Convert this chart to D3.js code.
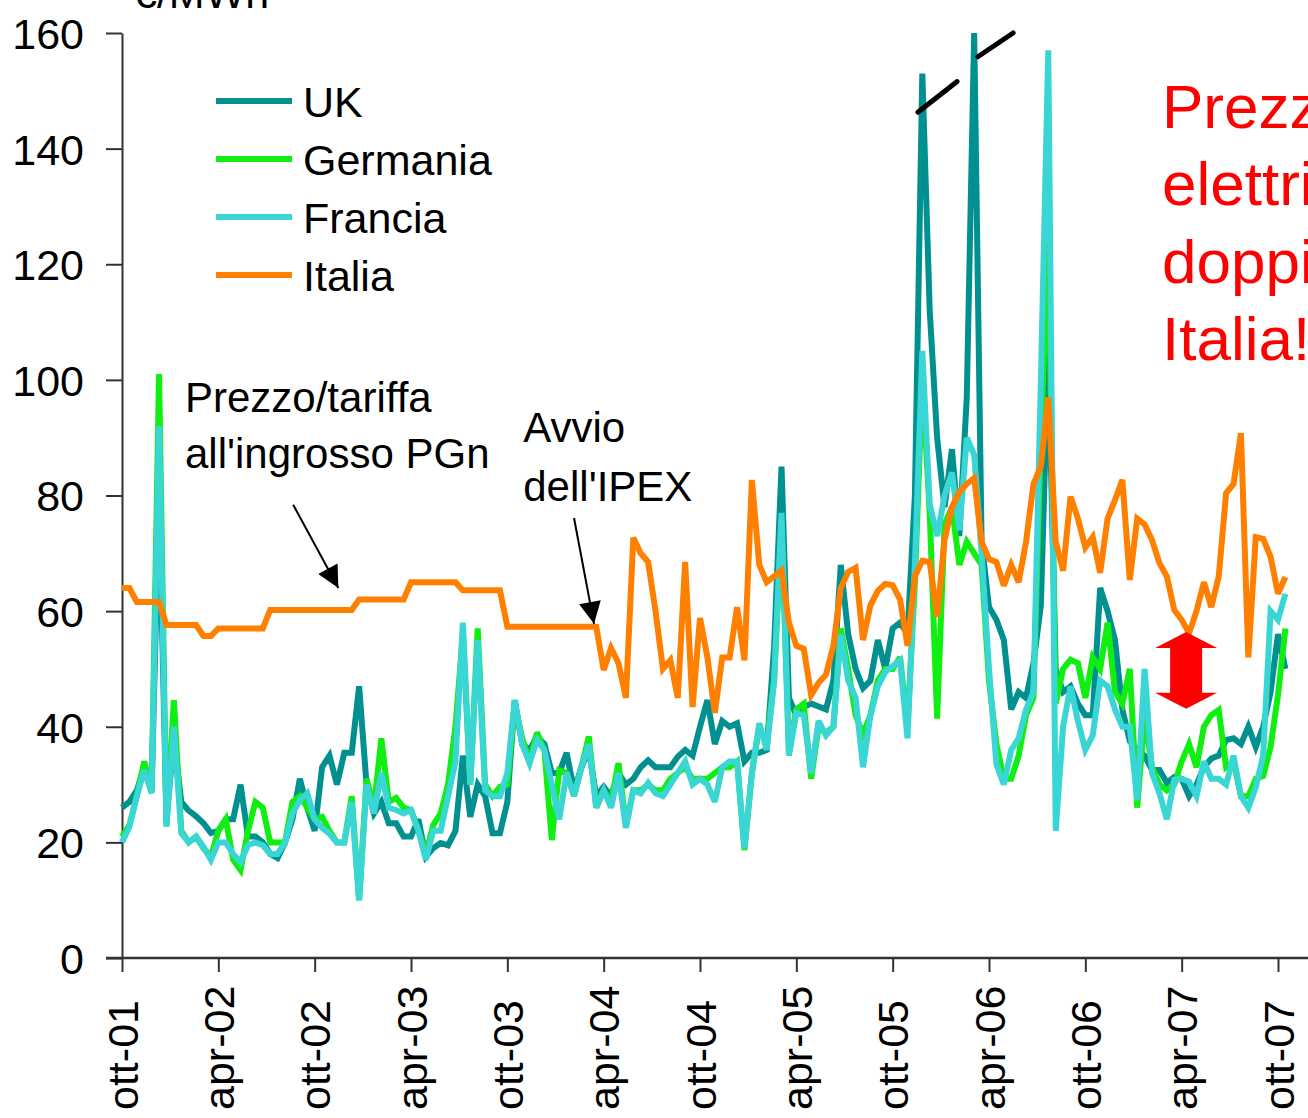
<!DOCTYPE html>
<html>
<head>
<meta charset="utf-8">
<script src="https://cdn.jsdelivr.net/npm/d3@7/dist/d3.min.js"></script>
<style>
  body { margin: 0; background: #fff; }
  svg text { font-family: "Liberation Sans", Arial, sans-serif; }
</style>
</head>
<body>
<div id="chart"></div>
<script>
// weekly prices, sampled every 2 weeks from ott-01 to ott-07 (EUR/MWh)
var tickLabels = ["ott-01", "apr-02", "ott-02", "apr-03", "ott-03", "apr-04", "ott-04",
                  "apr-05", "ott-05", "apr-06", "ott-06", "apr-07", "ott-07"];
var tickWeeks = [0, 26, 52, 78, 104, 130, 156, 182, 208, 234, 260, 286, 312];
var yTicks = [0, 20, 40, 60, 80, 100, 120, 140, 160];

var uk = [26, 27, 29, 33, 29, 80, 24, 38, 27, 25.5, 24.5, 23.3, 21.6, 22, 24, 24, 30, 21, 21, 20,
  18, 17.3, 20, 24, 31, 26, 22, 33, 35, 30, 35.5, 35.5, 47, 30, 25, 27, 23.3, 23.3, 21, 21,
  24, 17.5, 19, 19.9, 19.5, 22, 35, 24.4, 30, 28, 21.6, 21.6, 27, 44.6, 37, 36, 38.3, 37, 32, 32,
  35.5, 29, 33, 36, 28, 29.6, 28, 32, 30, 31, 33, 34.2, 33, 33, 33, 34.8, 36, 35, 40, 44.6,
  37, 41, 40, 40.6, 34, 35.5, 35.5, 36, 53.8, 85, 45, 42, 43.4, 44, 43.5, 43, 48, 68, 56, 50,
  46.7, 48, 55, 50, 57, 58, 56, 80, 153, 112, 90, 78, 88, 73, 97, 160, 72, 60.7, 58.5, 55,
  43, 46, 45, 51, 61, 105, 50, 46, 47, 44, 42, 42, 64, 60, 55, 43, 37.5, 36, 35, 32.5,
  32.5, 30.3, 31.3, 31, 28, 30, 33, 34.5, 35, 37.7, 38, 37, 40, 36.5, 40, 46, 56, 50];

var germania = [21, 23, 28, 34, 29, 101, 23, 44.6, 22, 20, 21, 19, 17.5, 22, 24, 17, 15.2, 22, 27, 26,
  20, 20, 20, 27, 28, 26, 24, 24.4, 22, 20, 20, 28, 10, 31, 26, 38, 27, 27.7, 26, 25.6,
  22, 18, 23, 25, 30, 40, 56, 30, 57, 30, 28, 29.6, 30, 44, 38, 34, 39, 36, 20.4, 32.5,
  32, 28, 33, 38.3, 26, 29, 27, 33.7, 23, 29, 29, 30, 29, 29, 31, 32, 33, 31, 31, 31,
  32, 33, 33, 34, 18.7, 32, 40, 37, 48, 75, 36, 43, 44, 31, 40, 39, 40, 57, 50, 42,
  38.7, 42, 48, 50, 50, 52, 40, 65, 100, 77, 41.4, 75, 78, 68, 72, 70, 68, 48, 37, 31,
  31, 35, 42, 45, 90, 125, 44, 50, 51.6, 51, 45, 52, 50, 58, 46, 44, 50, 26, 42, 33,
  30, 29, 30, 34, 37, 33, 40, 42, 42.9, 33, 34, 28, 28, 31, 31.5, 36.5, 45.5, 57];

var francia = [20, 22.7, 28, 32.5, 28.5, 92, 22.7, 40, 21.6, 20, 21, 19.2, 17, 20, 20, 18, 16.6, 19.5, 20, 19.5,
  18, 18, 20, 25, 27.3, 28.5, 24, 22.5, 21.5, 20, 20, 27, 10, 30, 25, 32, 26, 25.6, 25, 25.6,
  22, 17, 22, 22, 28, 34, 58, 30, 55, 29, 28, 28, 32, 44.6, 37, 33.7, 37.7, 36, 30, 24,
  32, 28, 33, 37, 26, 29, 26, 32, 22.5, 29, 28.5, 30.3, 28.5, 28, 30, 32, 34, 30, 31, 30,
  27, 33, 34, 34, 19, 32, 40.6, 36, 48, 77, 35, 42.4, 42, 32, 41, 38.5, 40, 56, 48, 45,
  33, 42, 47, 49.5, 50.5, 51.5, 38, 68, 105, 78.5, 73, 80, 84, 74, 90, 87, 70, 50, 33.5, 30,
  36, 38, 43, 46, 100, 157, 22, 40, 47, 41, 36, 38.5, 48, 47, 43, 40, 40, 27.3, 50, 32,
  28.5, 24, 30.8, 31, 30.5, 28, 34, 31, 31, 30, 35, 28, 26, 29.5, 35, 60, 58.5, 63];

var italia = [64, 64, 61.6, 61.6, 61.6, 61.6, 57.6, 57.6, 57.6, 57.6, 57.6, 55.7, 55.7, 57, 57, 57, 57, 57, 57, 57,
  60.2, 60.2, 60.2, 60.2, 60.2, 60.2, 60.2, 60.2, 60.2, 60.2, 60.2, 60.2, 62, 62, 62, 62, 62, 62, 62, 65,
  65, 65, 65, 65, 65, 65, 63.6, 63.6, 63.6, 63.6, 63.6, 63.6, 57.3, 57.3, 57.3, 57.3, 57.3, 57.3, 57.3, 57.3,
  57.3, 57.3, 57.3, 57.3, 57.3, 49.8, 53.6, 51, 45, 72.7, 70, 68.5, 60, 50, 51.5, 45, 68.5, 43.4, 58.8, 52,
  42.4, 52, 52, 60.7, 51.5, 82.7, 68, 65, 66, 67, 58, 54, 53.5, 45.5, 47.6, 49, 54, 64, 66.8, 67.5,
  55, 61, 63.5, 64.7, 64.5, 62, 54, 66, 68.7, 68.5, 59, 72.3, 78, 80.6, 82, 83, 72, 69, 68.5, 64.4,
  68, 65, 72, 82, 85, 97, 72, 67, 79.8, 76, 71, 72.8, 66.6, 76, 79.2, 82.7, 65.4, 76, 75, 72.3,
  68.3, 66, 60.2, 58.5, 56.2, 60, 65, 60.7, 66, 80.4, 82, 90.8, 52, 72.8, 72.5, 69.4, 63, 65.9];

var seriesNames = ["UK", "Germania", "Francia", "Italia"];
var seriesColors = ["#009090", "#11ee11", "#3ad5d5", "#ff8000"];

var width = 1308, height = 1118;

var svg = d3.select("#chart").append("svg")
  .attr("width", width)
  .attr("height", height);

// Scales (x in weeks from ott-01)
var x = d3.scaleLinear().domain([0, 312]).range([122, 1278]);
var y = d3.scaleLinear().domain([0, 160]).range([958, 33]);

// Axes
var yAxis = svg.append("g")
  .attr("transform", "translate(" + x(0) + ",0)")
  .call(d3.axisLeft(y).tickValues(yTicks).tickSize(16).tickSizeOuter(0).tickPadding(22));
yAxis.select(".domain").attr("stroke", "#333").attr("stroke-width", 2);
yAxis.selectAll(".tick line").attr("stroke", "#333").attr("stroke-width", 2);
yAxis.selectAll(".tick text")
  .attr("font-size", 43)
  .attr("fill", "#000")
  .attr("dy", "0.36em")
  .style("font-family", "'Liberation Sans', Arial, sans-serif");

var xAxis = svg.append("g")
  .attr("transform", "translate(0," + y(0) + ")")
  .call(d3.axisBottom(x).tickValues(tickWeeks).tickSize(14).tickSizeOuter(0)
    .tickFormat(function(d, i) { return tickLabels[i] }));
xAxis.select(".domain").remove();
xAxis.selectAll(".tick line").attr("stroke", "#333").attr("stroke-width", 2);
xAxis.selectAll(".tick text")
  .attr("transform", "rotate(-90)")
  .attr("text-anchor", "start")
  .attr("x", -152)
  .attr("y", 15)
  .attr("dy", 0)
  .attr("font-size", 43)
  .attr("fill", "#000")
  .style("font-family", "'Liberation Sans', Arial, sans-serif");

// baseline extends a bit left of the y axis and up to the page edge
svg.append("line")
  .attr("x1", x(0) - 16).attr("x2", width)
  .attr("y1", y(0)).attr("y2", y(0))
  .attr("stroke", "#333").attr("stroke-width", 2.5);

// Unit label (cut at the top, as in the original)
svg.append("text")
  .attr("x", 133).attr("y", 8)
  .attr("font-size", 43)
  .text("€/MWh");

// Lines
var line = d3.line()
  .x(function(d, i) { return x(i * 2) })
  .y(function(d) { return y(d) });

var allSeries = [uk, germania, francia, italia];

svg.selectAll(".series")
  .data(allSeries)
  .enter().append("path")
  .attr("class", "series")
  .attr("d", line)
  .attr("fill", "none")
  .attr("stroke", function(d, i) { return seriesColors[i] })
  .attr("stroke-width", 6)
  .attr("stroke-linejoin", "miter")
  .attr("stroke-miterlimit", 3);

// Legend
var legend = svg.selectAll(".legend")
  .data(seriesNames)
  .enter().append("g")
  .attr("class", "legend")
  .attr("transform", function(d, i) { return "translate(216," + (101 + i * 58) + ")" });

legend.append("line")
  .attr("x1", 0).attr("x2", 76)
  .attr("stroke", function(d, i) { return seriesColors[i] })
  .attr("stroke-width", 6);

legend.append("text")
  .attr("x", 87).attr("y", 16)
  .attr("font-size", 43)
  .text(function(d) { return d });

// Break marks on the spikes (in data units)
var breaks = [[[214.8, 146.3], [225.4, 151.6]], [[231, 155.9], [240.5, 160]]];
svg.selectAll(".break")
  .data(breaks)
  .enter().append("line")
  .attr("class", "break")
  .attr("x1", function(d) { return x(d[0][0]) })
  .attr("y1", function(d) { return y(d[0][1]) })
  .attr("x2", function(d) { return x(d[1][0]) })
  .attr("y2", function(d) { return y(d[1][1]) })
  .attr("stroke", "#000")
  .attr("stroke-width", 5)
  .attr("stroke-linecap", "round");

// Annotations
svg.append("defs").append("marker")
  .attr("id", "head")
  .attr("viewBox", "0 0 10 10")
  .attr("refX", 10).attr("refY", 5)
  .attr("markerWidth", 26).attr("markerHeight", 22)
  .attr("markerUnits", "userSpaceOnUse")
  .attr("orient", "auto")
  .append("path")
  .attr("d", "M0,0 L10,5 L0,10 z")
  .attr("fill", "#000");

var notes = [
  { lines: ["Prezzo/tariffa", "all'ingrosso PGn"], wk: 17, v: 94.4, gap: 56, from: [46.2, 78.4], to: [58.4, 64] },
  { lines: ["Avvio", "dell'IPEX"], wk: 108.3, v: 89.3, gap: 59, from: [122, 76.1], to: [127.4, 57.8] }
];

notes.forEach(function(n) {
  var t = svg.append("text")
    .attr("x", x(n.wk))
    .attr("y", y(n.v))
    .attr("font-size", 42);
  n.lines.forEach(function(s, i) {
    t.append("tspan")
      .attr("x", x(n.wk))
      .attr("dy", i === 0 ? 0 : n.gap)
      .text(s);
  });
  svg.append("line")
    .attr("x1", x(n.from[0])).attr("y1", y(n.from[1]))
    .attr("x2", x(n.to[0])).attr("y2", y(n.to[1]))
    .attr("stroke", "#000")
    .attr("stroke-width", 2)
    .attr("marker-end", "url(#head)");
});

// Red double arrow showing the gap
var gap = { wk: 287.2, top: 56.4, bottom: 43.1 };
var gx = x(gap.wk), gt = y(gap.top), gb = y(gap.bottom);
var headW = 31, shaftW = 16, headH = 16;
svg.append("path")
  .attr("d", "M" + gx + "," + gt +
    "L" + (gx + headW) + "," + (gt + headH) +
    "L" + (gx + shaftW) + "," + (gt + headH) +
    "L" + (gx + shaftW) + "," + (gb - headH) +
    "L" + (gx + headW) + "," + (gb - headH) +
    "L" + gx + "," + gb +
    "L" + (gx - headW) + "," + (gb - headH) +
    "L" + (gx - shaftW) + "," + (gb - headH) +
    "L" + (gx - shaftW) + "," + (gt + headH) +
    "L" + (gx - headW) + "," + (gt + headH) + "Z")
  .attr("fill", "#ff0000");

// Red callout text, running off the right edge like the original
var callout = ["Prezzi", "elettrici", "doppi in", "Italia!"];
svg.selectAll(".callout")
  .data(callout)
  .enter().append("text")
  .attr("class", "callout")
  .attr("x", 1162)
  .attr("y", function(d, i) { return 128 + i * 77.3 })
  .attr("font-size", 62)
  .attr("fill", "#ff0000")
  .text(function(d) { return d });
</script>
</body>
</html>
